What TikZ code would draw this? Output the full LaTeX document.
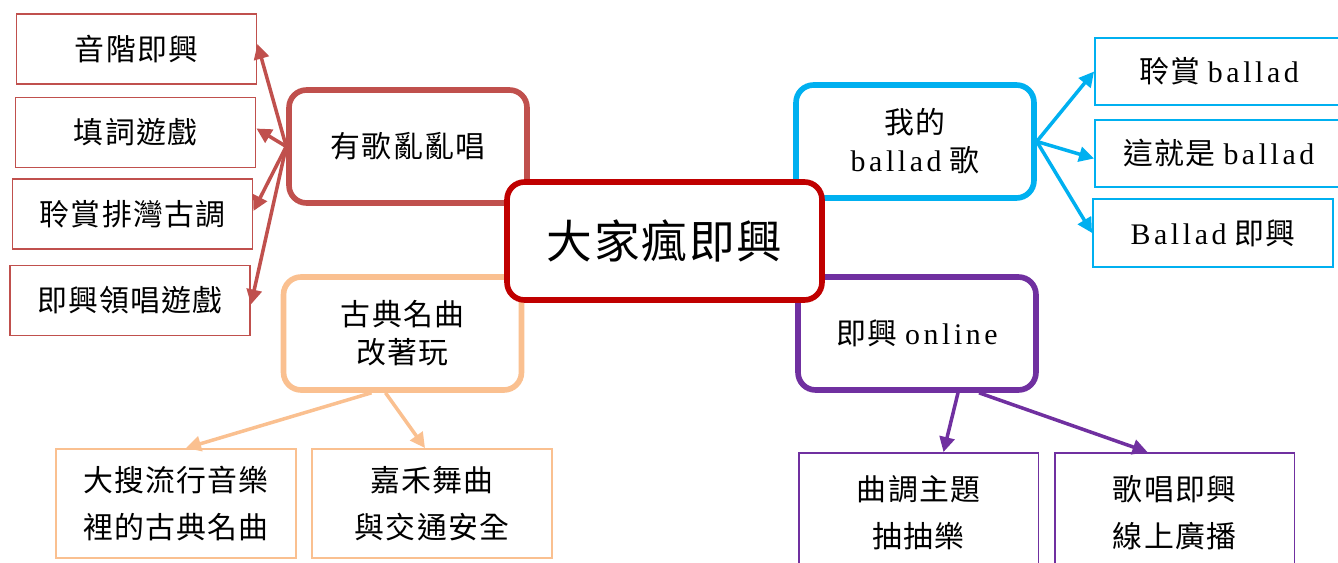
\documentclass[tikz,border=0pt]{standalone}
\usepackage{fontspec}
\setmainfont{Liberation Serif}
\newfontfamily\cjk[LetterSpace=4]{Noto Sans CJK TC}
\newfontfamily\latinfont[LetterSpace=12]{Liberation Serif}
\newcommand\latword[1]{{\latinfont #1}}
\usetikzlibrary{arrows.meta,calc}
\definecolor{songred}{HTML}{C0504D}
\definecolor{hubred}{HTML}{C00000}
\definecolor{classicorange}{HTML}{FAC090}
\definecolor{balladblue}{HTML}{00B0F0}
\definecolor{onlinepurple}{HTML}{7030A0}
\tikzset{
  leaf/.style={draw, line width=1.1pt, minimum width=4.8cm, minimum height=1.4cm,
    align=center, inner sep=0pt, font=\fontsize{17}{27}\selectfont\cjk},
  hub/.style={draw, fill=white, line width=3.2pt, rounded corners=0.35cm,
    minimum width=4.76cm, minimum height=2.26cm, align=center, inner sep=0pt,
    font=\fontsize{17}{21.5}\selectfont\cjk},
  link/.style={line width=2pt, -{Triangle[length=0.3cm,width=0.3cm]}},
}

\begin{document}
\begin{tikzpicture}[x=0.02cm,y=-0.02cm]
		%%%%% START %%%%%
		\useasboundingbox (0,0) rectangle (1338,563);
		\clip (0,0) rectangle (1338,563);
		
		% singing branch
		\node[hub, draw=songred] (sing) at (408,146.5) {有歌亂亂唱};
		\node[leaf, draw=songred] (scale) at (136.5,49) {音階即興};
		\node[leaf, draw=songred] (lyric) at (135.5,132.5) {填詞遊戲};
		\node[leaf, draw=songred] (paiwan) at (132.5,214) {聆賞排灣古調};
		\node[leaf, draw=songred] (lead) at (130,300.5) {即興領唱遊戲};
		\draw[link, songred] (sing.west) -- ($(scale.east)+(0,-5)$);
		\draw[link, songred] (sing.west) -- ($(lyric.east)+(0,-4)$);
		\draw[link, songred] (sing.west) -- ($(paiwan.east)+(0,-3)$);
		\draw[link, songred] (sing.west) -- ($(lead.east)+(0,4)$);
		
		% classic branch
		\node[hub, draw=classicorange] (classic) at (402.5,333.5) {古典名曲\\改著玩};
		\node[leaf, draw=classicorange, minimum height=2.18cm] (pop) at (176,503.5) {大搜流行音樂\\裡的古典名曲};
		\node[leaf, draw=classicorange, minimum height=2.18cm] (dance) at (432,503.5) {嘉禾舞曲\\與交通安全};
		\draw[link, classicorange] ($(classic.south)+(-31,0)$) -- ($(pop.north)+(10,0)$);
		\draw[link, classicorange] ($(classic.south)+(-17,0)$) -- ($(dance.north)+(-7,0)$);
		
		% ballad branch
		\node[hub, draw=balladblue] (myballad) at (915,141.5) {我的\\\latword{ballad} 歌};
		\node[leaf, draw=balladblue, minimum width=4.96cm, minimum height=1.34cm] (listen) at (1219,71.5) {聆賞 \latword{ballad}};
		\node[leaf, draw=balladblue, minimum width=4.96cm, minimum height=1.34cm] (thisis) at (1219,153.5) {這就是 \latword{ballad}};
		\node[leaf, draw=balladblue, minimum height=1.36cm] (impro) at (1213,233) {\latword{Ballad} 即興};
		\draw[link, balladblue] (myballad.east) -- (listen.west);
		\draw[link, balladblue] (myballad.east) -- ($(thisis.west)+(0,5)$);
		\draw[link, balladblue] (myballad.east) -- (impro.west);
		
		% online branch
		\node[hub, draw=onlinepurple] (online) at (917,333.5) {即興 \latword{online}};
		\node[leaf, draw=onlinepurple, minimum height=2.38cm] (theme) at (918.5,512.5) {曲調主題\\抽抽樂};
		\node[leaf, draw=onlinepurple, minimum height=2.38cm] (radio) at (1174.5,512.5) {歌唱即興\\線上廣播};
		\draw[link, onlinepurple] ($(online.south)+(41,0)$) -- ($(theme.north)+(25,0)$);
		\draw[link, onlinepurple] ($(online.south)+(62,0)$) -- ($(radio.north)+(-27,0)$);
		
		% centre on top
		\node[hub, draw=hubred, minimum width=6.3cm, minimum height=2.36cm,
		  font=\fontsize{26}{30}\selectfont\cjk] (hub) at (664.5,241) {大家瘋即興};
		
		%%%%% END %%%%%
	\end{tikzpicture}
\end{document}
